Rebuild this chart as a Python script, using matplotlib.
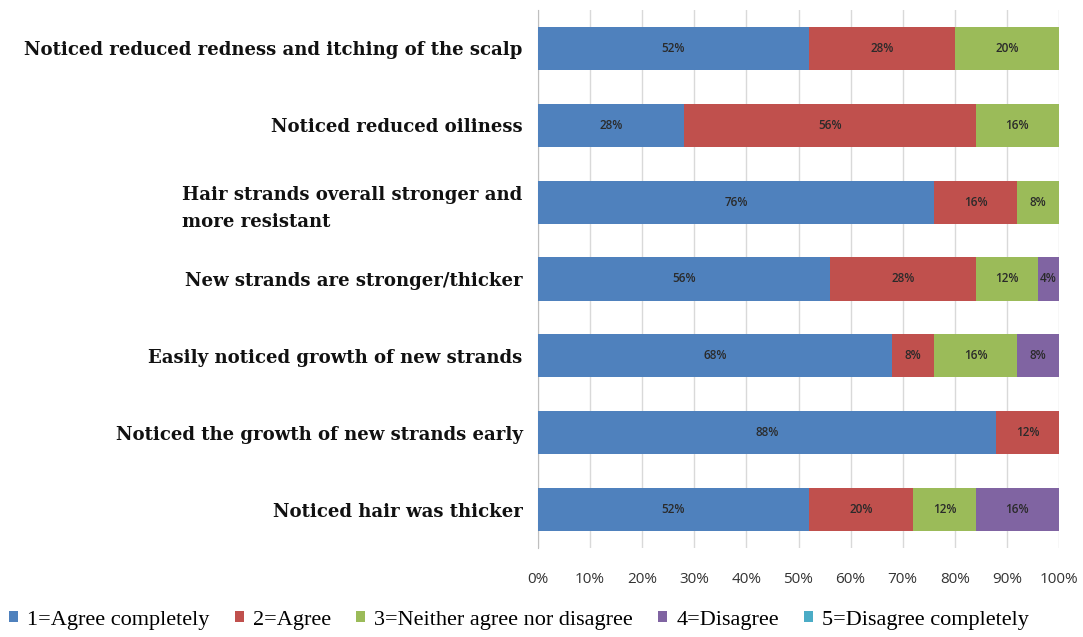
import matplotlib
matplotlib.use("Agg")
import matplotlib.pyplot as plt
import numpy as np

categories = [
    "Noticed reduced redness and itching of the scalp",
    "Noticed reduced oiliness",
    "Hair strands overall stronger and\nmore resistant",
    "New strands are stronger/thicker",
    "Easily noticed growth of new strands",
    "Noticed the growth of new strands early",
    "Noticed hair was thicker",
]
series_names = ["1=Agree completely", "2=Agree", "3=Neither agree nor disagree",
                "4=Disagree", "5=Disagree completely"]
agree_completely = [52, 28, 76, 56, 68, 88, 52]
agree = [28, 56, 16, 28, 8, 12, 20]
neither = [20, 16, 8, 12, 16, 0, 12]
disagree = [0, 0, 0, 4, 8, 0, 16]
disagree_completely = [0, 0, 0, 0, 0, 0, 0]
series = [agree_completely, agree, neither, disagree, disagree_completely]
colors = ["#4F81BD", "#C0504D", "#9BBB59", "#8064A2", "#4BACC6"]

fig = plt.figure(figsize=(10.83, 6.37), dpi=100)
ax = fig.add_axes([538/1083, 1-548/637, (1059-538)/1083, (548-10)/637])

y = np.arange(len(categories))[::-1]
left = np.zeros(len(categories))
for name, vals, c in zip(series_names, series, colors):
    vals = np.array(vals, dtype=float)
    ax.barh(y, vals, left=left, height=0.56, color=c, label=name, zorder=3)
    for yi, l, v in zip(y, left, vals):
        if v > 0:
            ax.text(l + v/2, yi, f"{int(v)}%", ha="center", va="center",
                    fontsize=8.5, color="#2a2a2a", family="Open Sans",
                    fontweight="semibold", zorder=4)
    left += vals

ax.set_xlim(0, 100)
ax.set_ylim(-0.5, len(categories) - 0.5)
ax.set_xticks(np.arange(0, 101, 10))
ax.set_xticklabels([f"{v}%" for v in range(0, 101, 10)], fontsize=11,
                   color="#333333", family="Open Sans")
ax.set_yticks(y)
ax.set_yticklabels(categories, fontsize=13.1, fontweight="bold",
                   family="DejaVu Serif", ha="right", multialignment="left",
                   linespacing=1.65, color="#111111")
ax.tick_params(axis="y", length=0, pad=11)
ax.tick_params(axis="x", length=0, pad=17)
ax.xaxis.grid(True, color="#D9D9D9", linewidth=1, zorder=0)
for s in ["top", "right", "bottom"]:
    ax.spines[s].set_visible(False)
ax.spines["left"].set_color("#BFBFBF")

handles, labels = ax.get_legend_handles_labels()
fig.legend(handles, labels, loc="lower left", bbox_to_anchor=(-0.01, -0.02), ncol=5,
           frameon=False, prop={"family": "Liberation Serif", "size": 16},
           handlelength=0.4, handleheight=0.4, handletextpad=0.4, columnspacing=1.15)

fig.savefig("out.png", dpi=100)
